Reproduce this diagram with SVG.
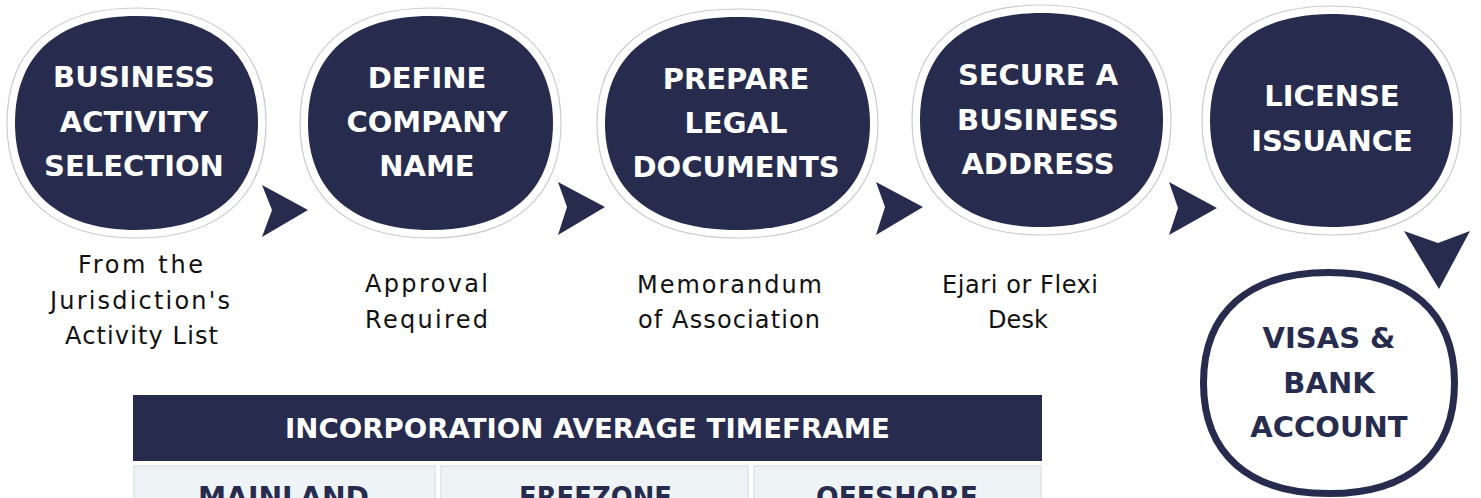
<svg xmlns="http://www.w3.org/2000/svg" width="1481" height="498" viewBox="0 0 1481 498">
<style>
.bg{fill:#ffffff}
.dark{fill:#272c4f}
.ring{fill:#ffffff;stroke:#c9cad4;stroke-width:1.2}
.t{font-family:"DejaVu Sans","Liberation Sans",sans-serif;font-weight:700;font-size:29px;fill:#ffffff;text-anchor:middle}
.tn{fill:#272c4f}
.d{font-family:"DejaVu Sans","Liberation Sans",sans-serif;font-size:24px;fill:#111111;text-anchor:middle}
.arrow{fill:#272c4f}
.hdr{fill:#272c4f}
.cell{fill:#eef3f6;stroke:#e0e4e8;stroke-width:1.5}
.ht{font-family:"DejaVu Sans","Liberation Sans",sans-serif;font-weight:700;font-size:27px;fill:#ffffff;text-anchor:middle}
.ct{font-family:"DejaVu Sans","Liberation Sans",sans-serif;font-weight:700;font-size:28px;fill:#272c4f;text-anchor:middle}
</style>
<rect class="bg" x="0" y="0" width="1481" height="498"/>

<g id="node1">
<path class="ring" d="M266,123 C266,196.6 219.4,238 136.5,238 C53.6,238 7,196.6 7,123 C7,49.4 53.6,8 136.5,8 C219.4,8 266,49.4 266,123Z"/>
<path class="dark" d="M258,123 C258,191.5 214.3,230 136.5,230 C58.7,230 15,191.5 15,123 C15,54.5 58.7,16 136.5,16 C214.3,16 258,54.5 258,123Z"/>
<text class="t" x="134" y="87">BUSINESS</text>
<text class="t" x="134" y="132">ACTIVITY</text>
<text class="t" x="134" y="176">SELECTION</text>
<text class="d" x="140.5" y="273" textLength="125" lengthAdjust="spacing">From the</text>
<text class="d" x="140" y="309" textLength="180" lengthAdjust="spacing">Jurisdiction's</text>
<text class="d" x="141.5" y="344" textLength="153" lengthAdjust="spacing">Activity List</text>
</g>

<g id="node2">
<path class="ring" d="M561,123 C561,196.6 514,238 430.5,238 C347,238 300,196.6 300,123 C300,49.4 347,8 430.5,8 C514,8 561,49.4 561,123Z"/>
<path class="dark" d="M553,123 C553,191.5 508.9,230 430.5,230 C352.1,230 308,191.5 308,123 C308,54.5 352.1,16 430.5,16 C508.9,16 553,54.5 553,123Z"/>
<text class="t" x="427" y="88">DEFINE</text>
<text class="t" x="427" y="132">COMPANY</text>
<text class="t" x="427" y="176">NAME</text>
<text class="d" x="426.5" y="292" textLength="123" lengthAdjust="spacing">Approval</text>
<text class="d" x="426.5" y="328" textLength="123" lengthAdjust="spacing">Required</text>
</g>

<g id="node3">
<path class="ring" d="M878,123.5 C878,196.8 827.4,238 737.5,238 C647.6,238 597,196.8 597,123.5 C597,50.2 647.6,9 737.5,9 C827.4,9 878,50.2 878,123.5Z"/>
<path class="dark" d="M870,123.5 C870,191.7 822.3,230 737.5,230 C652.7,230 605,191.7 605,123.5 C605,55.3 652.7,17 737.5,17 C822.3,17 870,55.3 870,123.5Z"/>
<text class="t" x="736" y="89">PREPARE</text>
<text class="t" x="736" y="133">LEGAL</text>
<text class="t" x="736" y="177">DOCUMENTS</text>
<text class="d" x="729.5" y="293" textLength="185" lengthAdjust="spacing">Memorandum</text>
<text class="d" x="729" y="328" textLength="182" lengthAdjust="spacing">of Association</text>
</g>

<g id="node4">
<path class="ring" d="M1171,120 C1171,193.6 1124.4,235 1041.5,235 C958.6,235 912,193.6 912,120 C912,46.4 958.6,5 1041.5,5 C1124.4,5 1171,46.4 1171,120Z"/>
<path class="dark" d="M1163,120 C1163,188.5 1119.3,227 1041.5,227 C963.7,227 920,188.5 920,120 C920,51.5 963.7,13 1041.5,13 C1119.3,13 1163,51.5 1163,120Z"/>
<text class="t" x="1038" y="85">SECURE A</text>
<text class="t" x="1038" y="130">BUSINESS</text>
<text class="t" x="1038" y="174">ADDRESS</text>
<text class="d" x="1020" y="293" textLength="156" lengthAdjust="spacing">Ejari or Flexi</text>
<text class="d" x="1018" y="328" textLength="60" lengthAdjust="spacing">Desk</text>
</g>

<g id="node5">
<path class="ring" d="M1461,120.5 C1461,193.8 1414.4,235 1331.5,235 C1248.6,235 1202,193.8 1202,120.5 C1202,47.2 1248.6,6 1331.5,6 C1414.4,6 1461,47.2 1461,120.5Z"/>
<path class="dark" d="M1453,120.5 C1453,188.7 1409.3,227 1331.5,227 C1253.7,227 1210,188.7 1210,120.5 C1210,52.3 1253.7,14 1331.5,14 C1409.3,14 1453,52.3 1453,120.5Z"/>
<text class="t" x="1332" y="106">LICENSE</text>
<text class="t" x="1332" y="151">ISSUANCE</text>
</g>

<g id="node6">
<path d="M1454.5,383 C1454.5,453.7 1409.3,493.5 1329,493.5 C1248.7,493.5 1203.5,453.7 1203.5,383 C1203.5,312.3 1248.7,272.5 1329,272.5 C1409.3,272.5 1454.5,312.3 1454.5,383Z" fill="#ffffff" stroke="#272c4f" stroke-width="7"/>
<text class="t tn" x="1329" y="348">VISAS &amp;</text>
<text class="t tn" x="1329" y="393">BANK</text>
<text class="t tn" x="1329" y="437">ACCOUNT</text>
</g>

<g id="connectors">
<path class="arrow" d="M262,185 L308,210 L262,237 L272,210Z"/>
<path class="arrow" d="M558,182 L605,207 L558,235 L567,207Z"/>
<path class="arrow" d="M876,182 L923,207 L876,235 L885,207Z"/>
<path class="arrow" d="M1169,182 L1217,208 L1169,235 L1178,208Z"/>
<path class="arrow" d="M1404,231 L1438,243 L1470,231 L1439,289Z"/>
</g>

<g id="timeframe-table">
<rect class="hdr" x="133" y="395" width="909" height="66"/>
<text class="ht" x="587.5" y="438" textLength="605" lengthAdjust="spacingAndGlyphs">INCORPORATION AVERAGE TIMEFRAME</text>
<rect class="cell" x="134" y="466" width="301" height="40"/>
<rect class="cell" x="441" y="466" width="307" height="40"/>
<rect class="cell" x="754" y="466" width="287" height="40"/>
<text class="ct" x="283.5" y="507" textLength="171" lengthAdjust="spacingAndGlyphs">MAINLAND</text>
<text class="ct" x="595.5" y="507" textLength="153" lengthAdjust="spacingAndGlyphs">FREEZONE</text>
<text class="ct" x="897" y="507" textLength="162" lengthAdjust="spacingAndGlyphs">OFFSHORE</text>
</g>
</svg>
